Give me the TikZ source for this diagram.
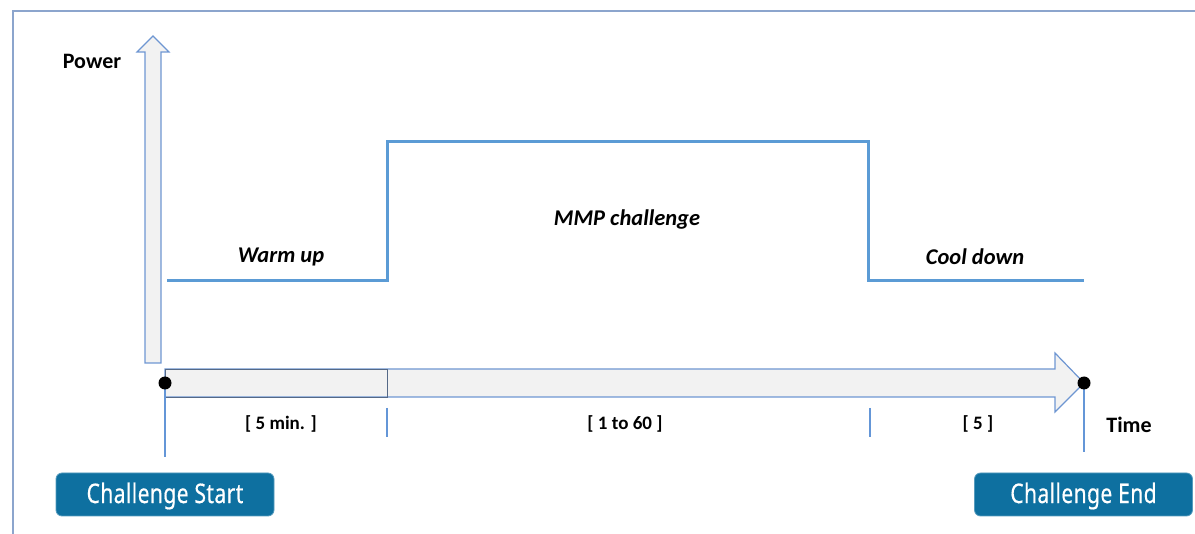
\documentclass[tikz,border=0pt]{standalone}
\usepackage{fontspec}
\setmainfont{Carlito}
\newfontfamily\btnfont[FakeStretch=0.78,FakeBold=0.4,LetterSpace=1.5]{Noto Sans}
\definecolor{framec}{RGB}{140,165,205}
\definecolor{arrowline}{RGB}{110,150,210}
\definecolor{arrowfill}{RGB}{242,242,242}
\definecolor{segline}{RGB}{85,105,135}
\definecolor{profilec}{RGB}{91,155,213}
\definecolor{btnc}{RGB}{14,112,160}
\definecolor{tickc}{RGB}{100,150,215}
\tikzset{
  lbl/.style={font=\fontsize{22}{26}\selectfont\bfseries, inner sep=0pt},
  phase/.style={font=\fontsize{22.5}{26}\selectfont\bfseries\itshape, inner sep=0pt},
  dur/.style={font=\fontsize{19}{22}\selectfont\bfseries, inner sep=0pt},
  btnbox/.style={fill=btnc, draw=btnc!70!white, line width=0.8pt, rounded corners=6pt, minimum width=218pt, minimum height=43pt, inner sep=0pt},
  btntext/.style={text=white, inner sep=0pt, font=\btnfont\fontsize{27}{30}\selectfont},
  blockarrow/.style={draw=arrowline, fill=arrowfill, line width=1.2pt, line join=miter},
  tickline/.style={draw=tickc, line width=1.2pt},
  profile/.style={draw=profilec, line width=3pt, line join=miter}
}
\begin{document}
\begin{tikzpicture}[x=1pt,y=-1pt]
\useasboundingbox (0,0) rectangle (1195,534);
% frame
\draw[framec, line width=1.2pt] (13,534) -- (13,11) -- (1195,11);
% power axis arrow
\draw[blockarrow] (145,363) -- (145,52) -- (137,52) -- (153,36) -- (169,52) -- (161,52) -- (161,363) -- cycle;
% time axis arrow
\draw[blockarrow] (165,369) -- (1055,369) -- (1055,353) -- (1084,383) -- (1055,412) -- (1055,397) -- (165,397) -- cycle;
\draw[segline, line width=0.8pt] (165,369) rectangle (387,397);
% coordinates
\coordinate (s) at (165,383);
\coordinate (e) at (1084,383);
\coordinate (sb) at (165,457);
\coordinate (eb) at (1084,452);
\coordinate (m1t) at (387,408);
\coordinate (m1b) at (387,437);
\coordinate (m2t) at (870,408);
\coordinate (m2b) at (870,437);
\coordinate (p0) at (167,281);
\coordinate (p1) at (387,281);
\coordinate (p2) at (387,142);
\coordinate (p3) at (868,142);
\coordinate (p4) at (868,281);
\coordinate (p5) at (1084,281);
% ticks
\draw[tickline] (s) -- (sb);
\draw[tickline] (e) -- (eb);
\draw[tickline] (m1t) -- (m1b);
\draw[tickline] (m2t) -- (m2b);
% dots
\fill[black] (s) circle (6.5pt);
\fill[black] (e) circle (6.5pt);
% power profile
\draw[profile] (p0) -- (p1) -- (p2) -- (p3) -- (p4) -- (p5);
% labels
\node[lbl] (power) at (92,61) {Power};
\node[lbl] (time) at (1129,425) {Time};
\node[phase] (warm) at (281,257) {Warm up};
\node[phase] (mmp) at (627,220) {MMP challenge};
\node[phase] (cool) at (975,257) {Cool down};
\node[dur] (d1) at (281,424) {[ 5 min. ]};
\node[dur] (d2) at (625,424) {[ 1 to 60 ]};
\node[dur] (d3) at (978,424) {[ 5 ]};
% buttons
\node[btnbox] (start) at (165,494.5) {};
\node[btntext] (starttext) at (165,496) {Challenge Start};
\node[btnbox] (end) at (1083.5,494.5) {};
\node[btntext] (endtext) at (1083.5,496) {Challenge End};
\end{tikzpicture}
\end{document}
